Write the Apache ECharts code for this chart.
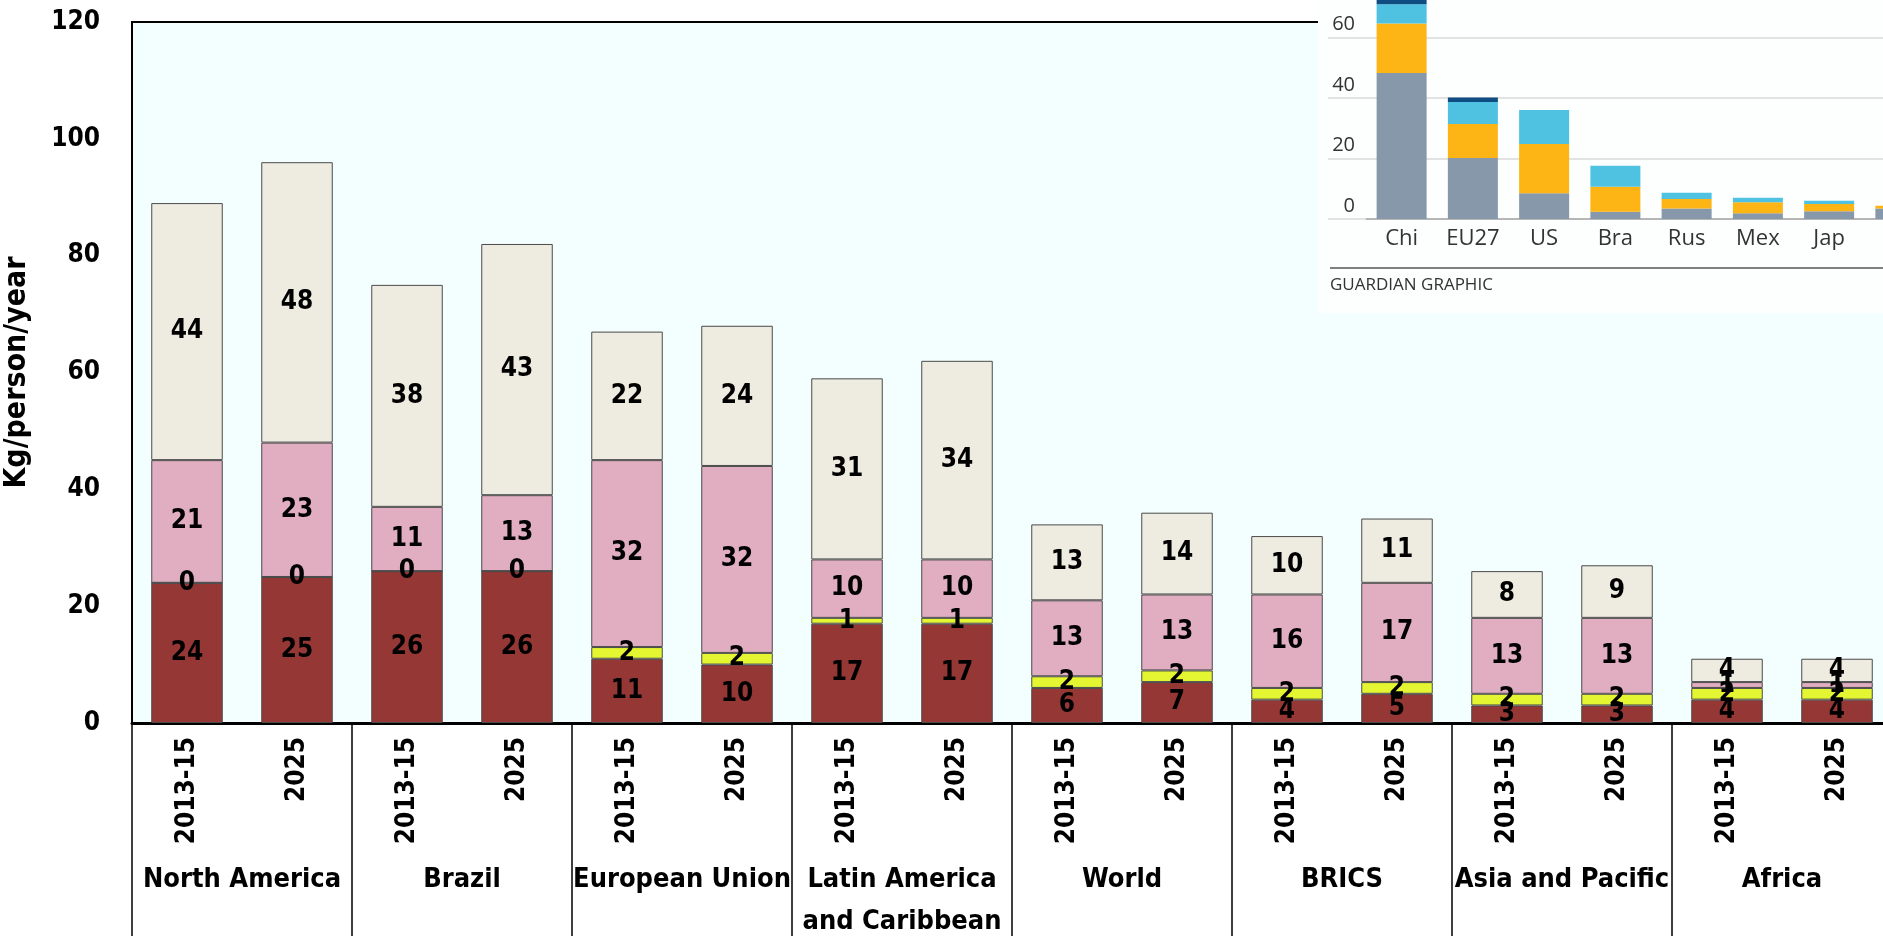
<!DOCTYPE html>
<html>
<head>
<meta charset="utf-8">
<title>Meat consumption per person</title>
<script src="https://cdn.jsdelivr.net/npm/echarts@6/dist/echarts.min.js"></script>
<style>
  html, body { margin: 0; padding: 0; background: #ffffff; }
  #chart { width: 1883px; height: 936px; }
</style>
</head>
<body>
<div id="chart"></div>
<script>
// Regions and the two periods shown for each of them
const regions = ['North America', 'Brazil', 'European Union', 'Latin America\nand Caribbean',
                 'World', 'BRICS', 'Asia and Pacific', 'Africa'];
const periods = ['2013-15', '2025'];

// Kg/person/year, one value per bar (region x period, in order)
const beef    = [24, 25, 26, 26, 11, 10, 17, 17, 6, 7, 4, 5, 3, 3, 4, 4];
const sheep   = [0, 0, 0, 0, 2, 2, 1, 1, 2, 2, 2, 2, 2, 2, 2, 2];
const pork    = [21, 23, 11, 13, 32, 32, 10, 10, 13, 13, 16, 17, 13, 13, 1, 1];
const poultry = [44, 48, 38, 43, 22, 24, 31, 34, 13, 14, 10, 11, 8, 9, 4, 4];

const yTicks = { min: 0, max: 120, step: 20 };

// Small country panel (top right)
const insetCountries = ['Chi', 'EU27', 'US', 'Bra', 'Rus', 'Mex', 'Jap', 'Vie'];
const insetGrey   = [48.3, 20.2, 8.5, 2.4, 3.5, 1.9, 2.6, 3.5];
const insetOrange = [16.3, 11.2, 16.3, 8.3, 3.1, 3.6, 2.4, 0.9];
const insetCyan   = [6.4, 7.3, 11.2, 6.9, 2.1, 1.5, 1.0, 0];
const insetNavy   = [3, 1.5, 0, 0, 0, 0, 0, 0];
const insetCredit = 'GUARDIAN GRAPHIC';

const barCats = [];
regions.forEach(() => periods.forEach(p => barCats.push(p)));

const FONT = "'DejaVu Sans Condensed', 'DejaVu Sans', sans-serif";
const INSET_FONT = "'Open Sans', 'Noto Sans', sans-serif";

function mainSeries(name, data, color) {
  return {
    name: name,
    type: 'bar',
    stack: 'meat',
    xAxisIndex: 0,
    yAxisIndex: 0,
    barWidth: '65%',
    data: data,
    itemStyle: { color: color, borderColor: '#4a4a4a', borderWidth: 1 },
    label: {
      show: true,
      position: 'inside',
      color: '#000',
      fontFamily: FONT,
      fontWeight: 'bold',
      fontSize: 26
    },
    z: 2
  };
}

function insetSeries(name, data, color) {
  return {
    name: name,
    type: 'bar',
    stack: 'inset',
    xAxisIndex: 2,
    yAxisIndex: 1,
    barWidth: 50,
    data: data,
    itemStyle: { color: color },
    z: 6
  };
}

const chart = echarts.init(document.getElementById('chart'), null, { renderer: 'canvas' });

const option = {
  animation: false,
  backgroundColor: '#ffffff',
  grid: [
    {
      left: 132, top: 22, width: 1760, height: 701,
      outerBoundsMode: 'none',
      show: true, backgroundColor: '#F3FEFE', borderColor: '#000', borderWidth: 2
    },
    {
      left: 1366, top: -23, width: 570, height: 242,
      outerBoundsMode: 'none',
      show: false
    }
  ],
  xAxis: [
    {
      type: 'category', gridIndex: 0, position: 'bottom',
      data: barCats,
      axisLine: { show: true, lineStyle: { color: '#000', width: 3 } },
      axisTick: { show: false },
      axisLabel: {
        rotate: 90, interval: 0, margin: 14,
        color: '#000', fontFamily: FONT, fontWeight: 'bold', fontSize: 26
      }
    },
    {
      type: 'category', gridIndex: 0, position: 'bottom',
      data: regions,
      axisLine: { show: false },
      axisTick: { show: true, length: 215, lineStyle: { color: '#000', width: 1.5 } },
      axisLabel: {
        interval: 0, margin: 136,
        color: '#000', fontFamily: FONT, fontWeight: 'bold', fontSize: 27, lineHeight: 42
      }
    },
    {
      type: 'category', gridIndex: 1, position: 'bottom', z: 5,
      data: insetCountries,
      axisLine: { show: true, lineStyle: { color: '#a8a8a8', width: 1.5 } },
      axisTick: { show: false },
      axisLabel: {
        interval: 0, margin: 9,
        color: '#333', fontFamily: INSET_FONT, fontSize: 22
      }
    }
  ],
  yAxis: [
    {
      type: 'value', gridIndex: 0,
      min: yTicks.min, max: yTicks.max, interval: yTicks.step,
      name: 'Kg/person/year', nameLocation: 'middle', nameRotate: 90, nameGap: 100,
      nameTextStyle: { color: '#000', fontFamily: FONT, fontWeight: 'bold', fontSize: 30 },
      axisLine: { show: false },
      axisTick: { show: false },
      splitLine: { show: false },
      axisLabel: { margin: 32, color: '#000', fontFamily: FONT, fontWeight: 'bold', fontSize: 26 }
    },
    {
      type: 'value', gridIndex: 1, z: 5,
      min: 0, max: 80, interval: 20,
      axisLine: { show: false },
      axisTick: { show: true, length: 38, lineStyle: { color: '#d9d9d9', width: 1.5 } },
      splitLine: { show: true, lineStyle: { color: '#d9d9d9', width: 1.5 } },
      axisLabel: {
        margin: 11, verticalAlign: 'bottom', padding: [0, 0, 3, 0],
        color: '#333', fontFamily: INSET_FONT, fontSize: 20
      }
    }
  ],
  graphic: [
    {
      type: 'rect', z: 1,
      shape: { x: 1318, y: 0, width: 565, height: 313 },
      style: { fill: '#fdfefe' }
    },
    {
      type: 'line', z: 5,
      shape: { x1: 1330, y1: 268, x2: 1883, y2: 268 },
      style: { stroke: '#555', lineWidth: 1.5 }
    },
    {
      type: 'text', z: 5, left: 1330, top: 277,
      style: { text: insetCredit, fill: '#333', font: "17px 'Open Sans', 'Noto Sans', sans-serif" }
    }
  ],
  series: [
    mainSeries('Beef and veal', beef, '#953735'),
    mainSeries('Sheep', sheep, '#E4F531'),
    mainSeries('Pork', pork, '#E1AEC1'),
    mainSeries('Poultry', poultry, '#EEEBE0'),
    insetSeries('Grey', insetGrey, '#8698A9'),
    insetSeries('Orange', insetOrange, '#FDB515'),
    insetSeries('Cyan', insetCyan, '#4EC2E0'),
    insetSeries('Navy', insetNavy, '#0F4C81')
  ]
};

chart.setOption(option);
</script>
</body>
</html>
